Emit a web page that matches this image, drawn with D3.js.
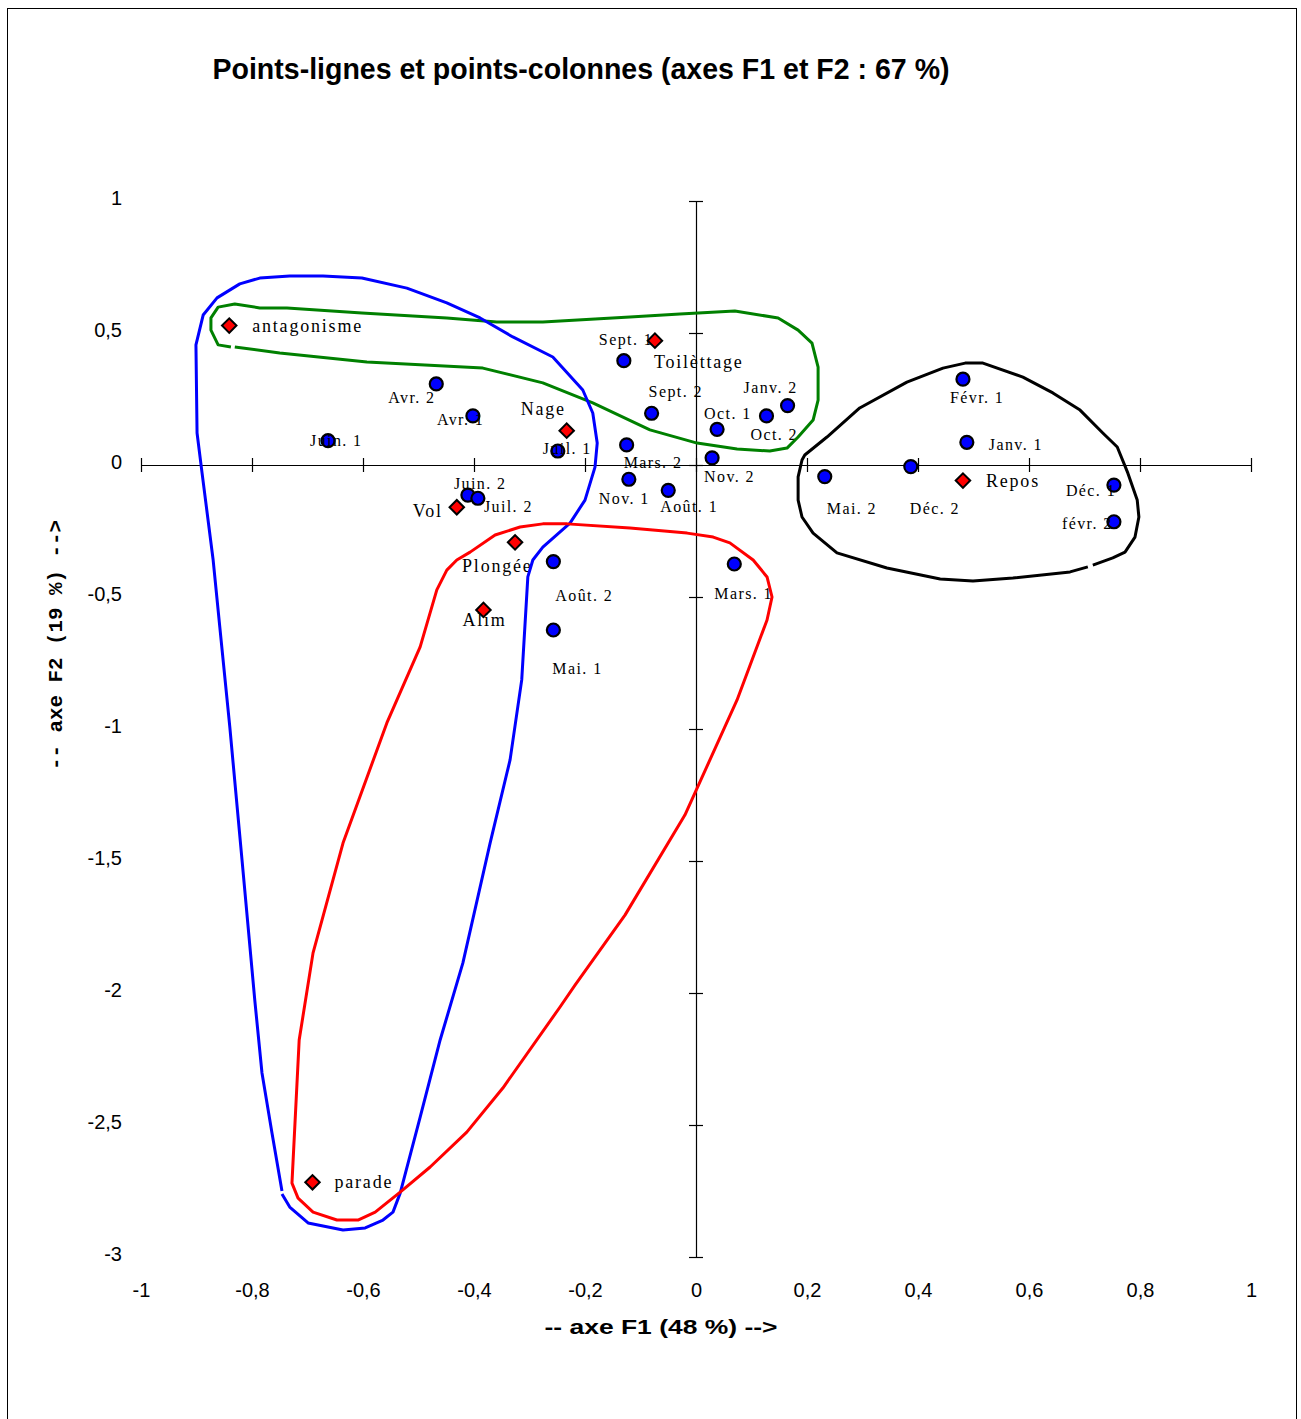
<!DOCTYPE html>
<html>
<head>
<meta charset="utf-8">
<title>Points-lignes et points-colonnes</title>
<script src="https://cdn.jsdelivr.net/npm/d3@7"></script>
<style>
  body { margin: 0; background: #fff; }
  svg { display: block; }
</style>
</head>
<body>
<svg id="chart" width="1301" height="1419"></svg>
<script>
// Row points: months (coordinates on F1 and F2)
const monthNames = ["Juin. 1", "Avr. 2", "Avr. 1", "Juil. 1", "Juin. 2", "Juil. 2",
  "Sept. 1", "Sept. 2", "Mars. 2", "Nov. 1", "Août. 1", "Nov. 2", "Oct. 1", "Oct. 2",
  "Janv. 2", "Févr. 1", "Janv. 1", "Mai. 2", "Déc. 2", "Déc. 1", "févr. 2",
  "Août. 2", "Mai. 1", "Mars. 1"];
const monthF1 = [-0.663, -0.468, -0.402, -0.249, -0.411, -0.393,
  -0.130, -0.080, -0.125, -0.121, -0.050, 0.029, 0.038, 0.127,
  0.165, 0.481, 0.488, 0.232, 0.387, 0.753, 0.753,
  -0.257, -0.257, 0.069];
const monthF2 = [0.092, 0.307, 0.186, 0.053, -0.114, -0.126,
  0.395, 0.196, 0.076, -0.054, -0.096, 0.027, 0.135, 0.186,
  0.225, 0.325, 0.086, -0.044, -0.006, -0.076, -0.215,
  -0.366, -0.625, -0.375];

// Column points: behaviours
const behaviourNames = ["antagonisme", "Toilèttage", "Nage", "Vol", "Plongée", "Alim", "parade", "Repos"];
const behaviourF1 = [-0.841, -0.074, -0.233, -0.431, -0.326, -0.383, -0.691, 0.481];
const behaviourF2 = [0.528, 0.471, 0.130, -0.160, -0.293, -0.549, -2.717, -0.059];

const xTickValues = [-1, -0.8, -0.6, -0.4, -0.2, 0, 0.2, 0.4, 0.6, 0.8, 1];
const yTickValues = [1, 0.5, 0, -0.5, -1, -1.5, -2, -2.5, -3];

// Hand-drawn groupings, expressed in F1/F2 units
const groupBlue = [
  [-0.746, -2.750], [-0.764, -2.530], [-0.782, -2.303], [-0.795, -2.027], [-0.818, -1.496],
  [-0.840, -0.992], [-0.858, -0.614], [-0.870, -0.360], [-0.890, -0.030], [-0.899, 0.121],
  [-0.901, 0.455], [-0.888, 0.568], [-0.863, 0.633], [-0.822, 0.686], [-0.786, 0.708],
  [-0.732, 0.716], [-0.672, 0.716], [-0.602, 0.708], [-0.521, 0.670], [-0.449, 0.614],
  [-0.389, 0.557], [-0.330, 0.485], [-0.258, 0.409], [-0.204, 0.284], [-0.186, 0.197],
  [-0.178, 0.083], [-0.182, -0.008], [-0.200, -0.133], [-0.227, -0.220], [-0.276, -0.311],
  [-0.294, -0.360], [-0.303, -0.424], [-0.314, -0.814], [-0.335, -1.117], [-0.371, -1.432],
  [-0.420, -1.886], [-0.461, -2.178], [-0.497, -2.470], [-0.533, -2.758], [-0.546, -2.830],
  [-0.564, -2.860], [-0.596, -2.890], [-0.636, -2.898], [-0.699, -2.871], [-0.732, -2.811],
  [-0.746, -2.761]
];
const groupRed = [
  [-0.728, -2.720], [-0.715, -2.178], [-0.690, -1.848], [-0.636, -1.432], [-0.557, -0.977],
  [-0.497, -0.689], [-0.467, -0.473], [-0.449, -0.398], [-0.431, -0.360], [-0.407, -0.330],
  [-0.362, -0.265], [-0.317, -0.235], [-0.276, -0.223], [-0.232, -0.223], [-0.119, -0.239],
  [-0.016, -0.258], [0.031, -0.273], [0.061, -0.295], [0.103, -0.360], [0.128, -0.424],
  [0.137, -0.500], [0.128, -0.587], [0.074, -0.890], [-0.020, -1.326], [-0.128, -1.705],
  [-0.218, -1.970], [-0.245, -2.053], [-0.348, -2.360], [-0.413, -2.527], [-0.479, -2.659],
  [-0.533, -2.754], [-0.578, -2.830], [-0.609, -2.860], [-0.647, -2.860], [-0.690, -2.830],
  [-0.717, -2.777]
];
const groupGreen = [
  [-0.831, 0.447], [-0.750, 0.424], [-0.593, 0.390], [-0.384, 0.367], [-0.276, 0.311],
  [-0.186, 0.235], [-0.083, 0.133], [0.002, 0.083], [0.074, 0.061], [0.133, 0.053],
  [0.164, 0.064], [0.184, 0.106], [0.211, 0.170], [0.220, 0.246], [0.220, 0.371],
  [0.209, 0.462], [0.184, 0.511], [0.148, 0.557], [0.070, 0.583], [-0.029, 0.572],
  [-0.119, 0.561], [-0.276, 0.542], [-0.359, 0.542], [-0.449, 0.557], [-0.602, 0.576],
  [-0.737, 0.595], [-0.786, 0.595], [-0.831, 0.610], [-0.861, 0.598], [-0.874, 0.557],
  [-0.874, 0.511], [-0.861, 0.455], [-0.838, 0.447]
];
const groupBlack = [
  [0.706, -0.386], [0.674, -0.405], [0.571, -0.428], [0.499, -0.439], [0.440, -0.432],
  [0.344, -0.390], [0.254, -0.333], [0.211, -0.258], [0.191, -0.197], [0.184, -0.133],
  [0.184, -0.045], [0.191, 0.019], [0.196, 0.038], [0.236, 0.106], [0.295, 0.216],
  [0.380, 0.314], [0.445, 0.367], [0.485, 0.386], [0.517, 0.386], [0.589, 0.333],
  [0.643, 0.273], [0.692, 0.208], [0.733, 0.121], [0.759, 0.068], [0.778, -0.030],
  [0.795, -0.133], [0.798, -0.197], [0.791, -0.273], [0.773, -0.330], [0.751, -0.352],
  [0.715, -0.379]
];

// Label placement (pixel offsets from the marker: left edge, vertical centre)
const labelOffset = {
  "Juin. 1": [-18, 0], "Avr. 2": [-48, 14], "Avr. 1": [-36, 4], "Juil. 1": [-15, -3],
  "Juin. 2": [-14, -12], "Juil. 2": [6, 8], "Sept. 1": [-25, -21], "Sept. 2": [-3, -22],
  "Mars. 2": [-3, 18], "Nov. 1": [-30, 19], "Août. 1": [-8, 16], "Nov. 2": [-8, 19],
  "Oct. 1": [-13, -16], "Oct. 2": [-16, 19], "Janv. 2": [-44, -18], "Févr. 1": [-13, 18],
  "Janv. 1": [22, 2], "Mai. 2": [2, 32], "Déc. 2": [-1, 42], "Déc. 1": [-48, 5],
  "févr. 2": [-52, 2], "Août. 2": [2, 34], "Mai. 1": [-1, 38], "Mars. 1": [-20, 29],
  "antagonisme": [23, 0], "Toilèttage": [-1, 21], "Nage": [-46, -22], "Vol": [-44, 4],
  "Plongée": [-53, 24], "Alim": [-21, 10], "parade": [22, 0], "Repos": [23, 0]
};

const svg = d3.select("#chart");

// white page and outer frame
svg.append("rect").attr("x", 0).attr("y", 0).attr("width", 1301).attr("height", 1419).attr("fill", "#fff");
svg.append("rect").attr("x", 7.5).attr("y", 8.5).attr("width", 1289).attr("height", 1430)
  .attr("fill", "none").attr("stroke", "#000").attr("stroke-width", 1);

const x = d3.scaleLinear().domain([-1, 1]).range([141, 1251]);
const y = d3.scaleLinear().domain([1, -3]).range([201, 1257]);

const fmt = d3.formatLocale({ decimal: ",", thousands: " ", grouping: [3], currency: ["", " €"], minus: "-" }).format("~g");

// Axes crossing at the origin, ticks crossing the line
const xAxis = svg.append("g").attr("transform", `translate(0,${y(0)})`)
  .call(d3.axisBottom(x).tickValues(xTickValues).tickSize(7).tickSizeOuter(0).tickFormat(""));
xAxis.selectAll(".tick line").attr("y1", -7).attr("y2", 7);
const yAxis = svg.append("g").attr("transform", `translate(${x(0)},0)`)
  .call(d3.axisLeft(y).tickValues(yTickValues).tickSize(7).tickSizeOuter(0).tickFormat(""));
yAxis.selectAll(".tick line").attr("x1", -7).attr("x2", 7);
svg.selectAll(".domain").attr("stroke", "#000").attr("stroke-width", 1.2);
svg.selectAll(".tick line").attr("stroke", "#000").attr("stroke-width", 1.2);

// Tick labels along the bottom and left of the plot
const xLab = svg.append("g").attr("transform", "translate(0,1290)")
  .call(d3.axisBottom(x).tickValues(xTickValues).tickSize(0).tickPadding(0).tickFormat(fmt));
xLab.select(".domain").remove();
xLab.selectAll("text").attr("dy", "0.35em").attr("font-family", "Liberation Sans, Arial, sans-serif")
  .attr("font-size", 20).attr("fill", "#000");
const yLab = svg.append("g").attr("transform", "translate(122,0)")
  .call(d3.axisLeft(y).tickValues(yTickValues).tickSize(0).tickPadding(0).tickFormat(fmt));
yLab.select(".domain").remove();
yLab.selectAll("text").attr("font-family", "Liberation Sans, Arial, sans-serif")
  .attr("font-size", 20).attr("fill", "#000").attr("dy", "0.3em")
  .attr("y", -3);

// Titles
svg.append("text").attr("x", 581).attr("y", 79).attr("text-anchor", "middle")
  .attr("font-family", "Liberation Sans, Arial, sans-serif").attr("font-weight", "bold")
  .attr("font-size", 29).attr("textLength", 737).attr("lengthAdjust", "spacingAndGlyphs")
  .text("Points-lignes et points-colonnes (axes F1 et F2 : 67 %)");
svg.append("text").attr("x", 661).attr("y", 1334).attr("text-anchor", "middle")
  .attr("font-family", "Liberation Sans, Arial, sans-serif").attr("font-weight", "bold")
  .attr("font-size", 21).attr("textLength", 233).attr("lengthAdjust", "spacingAndGlyphs")
  .text("-- axe F1 (48 %) -->");
svg.append("text").attr("transform", "translate(62,645) rotate(-90)").attr("text-anchor", "middle")
  .attr("font-family", "Liberation Mono, monospace").attr("font-weight", "bold")
  .attr("font-size", 20).attr("textLength", 250).attr("lengthAdjust", "spacingAndGlyphs")
  .text("-- axe F2 (19 %) -->");

// Month points
const months = monthNames.map((n, i) => ({ name: n, f1: monthF1[i], f2: monthF2[i] }));
const behaviours = behaviourNames.map((n, i) => ({ name: n, f1: behaviourF1[i], f2: behaviourF2[i] }));

svg.append("g").selectAll("circle").data(months).join("circle")
  .attr("cx", d => x(d.f1)).attr("cy", d => y(d.f2)).attr("r", 6.5)
  .attr("fill", "#0000ff").attr("stroke", "#000").attr("stroke-width", 2.2);

const diamond = d3.symbol().type(d3.symbolSquare).size(105);
svg.append("g").selectAll("path").data(behaviours).join("path")
  .attr("d", diamond)
  .attr("transform", d => `translate(${x(d.f1)},${y(d.f2)}) rotate(45)`)
  .attr("fill", "#ff0000").attr("stroke", "#000").attr("stroke-width", 2);

// Labels
function addLabels(data, size, spacing) {
  svg.append("g").selectAll("text").data(data).join("text")
    .attr("x", d => x(d.f1) + labelOffset[d.name][0])
    .attr("y", d => y(d.f2) + labelOffset[d.name][1])
    .attr("dominant-baseline", "central")
    .attr("font-family", "Liberation Serif, Times New Roman, serif")
    .attr("font-size", size).style("letter-spacing", spacing + "px")
    .attr("fill", "#000")
    .text(d => d.name);
}
addLabels(months, 16, 1.4);
addLabels(behaviours, 18, 1.8);

// Groupings drawn over the points
const line = d3.line().x(d => x(d[0])).y(d => y(d[1]));
const groups = [
  { pts: groupGreen, color: "#008000", closed: false },
  { pts: groupBlue, color: "#0000ff", closed: false },
  { pts: groupRed, color: "#ff0000", closed: true },
  { pts: groupBlack, color: "#000000", closed: false }
];
groups.forEach(g => {
  svg.append("path").attr("d", line(g.pts) + (g.closed ? "Z" : ""))
    .attr("fill", "none").attr("stroke", g.color).attr("stroke-width", 3)
    .attr("stroke-linejoin", "round");
});
</script>
</body>
</html>
